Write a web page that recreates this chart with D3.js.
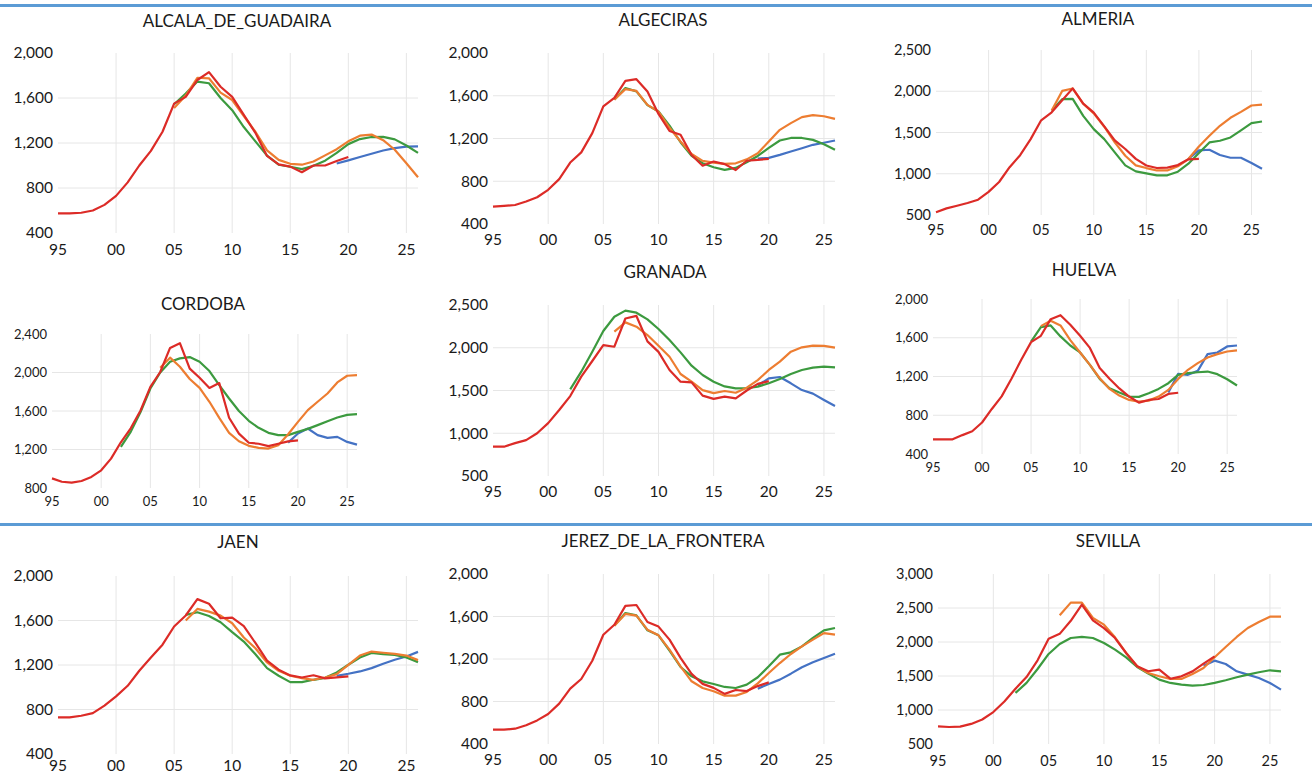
<html>

<head>
    <script src="https://d3js.org/d3.v7.min.js"></script>
    <style>
        body { margin: 0; background: #fff; }
        text { font-family: Lato, "Open Sans", sans-serif; fill: #1a1a1a; }
    </style>
</head>

<body></body>
<script>

    // city names, one chart each
    var cities = ["ALCALA_DE_GUADAIRA", "ALGECIRAS", "ALMERIA",
        "CORDOBA", "GRANADA", "HUELVA",
        "JAEN", "JEREZ_DE_LA_FRONTERA", "SEVILLA"];

    var xTicks = [1995, 2000, 2005, 2010, 2015, 2020, 2025];

    // y tick values per city
    var yTicks = [
        [400, 800, 1200, 1600, 2000],
        [400, 800, 1200, 1600, 2000],
        [500, 1000, 1500, 2000, 2500],
        [800, 1200, 1600, 2000, 2400],
        [500, 1000, 1500, 2000, 2500],
        [400, 800, 1200, 1600, 2000],
        [400, 800, 1200, 1600, 2000],
        [400, 800, 1200, 1600, 2000],
        [500, 1000, 1500, 2000, 2500, 3000]
    ];

    // red series: 1995 - 2020
    var redStart = [1995, 1995, 1995, 1995, 1995, 1995, 1995, 1995, 1995];
    var red = [
        [575, 575, 580, 600, 650, 730, 850, 1000, 1130, 1300, 1550, 1610, 1760, 1830, 1700, 1610, 1450, 1290, 1085, 1010, 990, 940, 1000, 1000, 1040, 1075],
        [562, 570, 578, 610, 650, 720, 820, 975, 1070, 1250, 1500, 1580, 1740, 1755, 1640, 1430, 1270, 1235, 1045, 945, 985, 960, 905, 992, 1000, 1010],
        [533, 580, 612, 645, 685, 780, 900, 1080, 1225, 1420, 1648, 1745, 1890, 2035, 1850, 1740, 1575, 1405, 1300, 1180, 1100, 1070, 1075, 1105, 1175, 1180],
        [900, 865, 855, 873, 915, 984, 1105, 1275, 1420, 1605, 1850, 2005, 2255, 2305, 2040, 1945, 1840, 1890, 1530, 1365, 1270, 1260, 1235, 1260, 1285, 1295],
        [843, 843, 885, 920, 1000, 1118, 1272, 1435, 1662, 1845, 2030, 2012, 2342, 2372, 2075, 1952, 1740, 1603, 1595, 1440, 1402, 1428, 1408, 1500, 1577, 1610],
        [552, 552, 552, 595, 635, 725, 865, 995, 1177, 1373, 1555, 1620, 1792, 1833, 1735, 1620, 1495, 1287, 1177, 1077, 993, 930, 958, 968, 1020, 1032],
        [729, 729, 744, 768, 835, 918, 1013, 1148, 1267, 1383, 1546, 1645, 1792, 1750, 1620, 1625, 1550, 1398, 1240, 1158, 1106, 1088, 1108, 1080, 1088, 1098],
        [535, 535, 544, 576, 622, 682, 780, 921, 1012, 1184, 1428, 1522, 1700, 1708, 1548, 1505, 1382, 1210, 1060, 966, 928, 872, 908, 898, 945, 980],
        [760, 750, 755, 795, 860, 970, 1125, 1312, 1485, 1730, 2048, 2120, 2312, 2548, 2318, 2205, 2058, 1838, 1643, 1570, 1593, 1460, 1495, 1568, 1682, 1788]
    ];

    // orange series, to 2026
    var orangeStart = [2005, 2006, 2006, 2006, 2006, 2006, 2006, 2006, 2006];
    var orange = [
        [1510, 1622, 1780, 1775, 1648, 1582, 1440, 1300, 1135, 1050, 1015, 1007, 1035, 1090, 1145, 1215, 1265, 1275, 1225, 1140, 1020, 895],
        [1562, 1662, 1645, 1515, 1452, 1300, 1172, 1055, 990, 975, 962, 968, 1005, 1062, 1172, 1281, 1344, 1400, 1418, 1408, 1384],
        [1767, 2004, 2033, 1848, 1732, 1570, 1380, 1218, 1102, 1069, 1040, 1040, 1090, 1178, 1331, 1460, 1581, 1678, 1750, 1827, 1839],
        [2049, 2154, 2060, 1932, 1841, 1696, 1529, 1373, 1286, 1238, 1217, 1210, 1244, 1359, 1487, 1609, 1696, 1782, 1897, 1966, 1973],
        [2188, 2297, 2246, 2149, 2024, 1895, 1693, 1603, 1505, 1470, 1494, 1474, 1533, 1622, 1740, 1837, 1954, 2005, 2024, 2022, 2001],
        [1720, 1776, 1727, 1576, 1448, 1320, 1182, 1072, 1003, 958, 941, 951, 993, 1062, 1175, 1269, 1338, 1396, 1431, 1458, 1469],
        [1600, 1704, 1680, 1644, 1575, 1447, 1351, 1223, 1148, 1103, 1082, 1067, 1088, 1118, 1202, 1285, 1321, 1310, 1300, 1285, 1244],
        [1512, 1624, 1608, 1476, 1423, 1288, 1131, 990, 927, 896, 855, 855, 890, 971, 1068, 1162, 1247, 1319, 1382, 1444, 1429],
        [2392, 2579, 2579, 2353, 2255, 2069, 1839, 1643, 1545, 1496, 1456, 1456, 1530, 1618, 1775, 1927, 2074, 2206, 2294, 2373, 2373]
    ];

    // green series, to 2026
    var greenStart = [2005, 2006, 2006, 2002, 2002, 2005, 2006, 2006, 2002];
    var green = [
        [1545, 1640, 1746, 1731, 1600, 1492, 1342, 1214, 1088, 1007, 989, 968, 998, 1043, 1112, 1190, 1235, 1253, 1255, 1232, 1178, 1112],
        [1565, 1672, 1641, 1512, 1453, 1320, 1165, 1037, 969, 931, 906, 925, 978, 1037, 1112, 1181, 1205, 1205, 1187, 1147, 1094],
        [1767, 1904, 1908, 1702, 1541, 1420, 1259, 1102, 1029, 1005, 981, 981, 1025, 1122, 1251, 1380, 1400, 1440, 1525, 1613, 1633],
        [1227, 1383, 1590, 1834, 2000, 2112, 2147, 2160, 2112, 2015, 1869, 1730, 1600, 1498, 1425, 1373, 1349, 1349, 1383, 1414, 1453, 1494, 1532, 1560, 1567],
        [1513, 1720, 1954, 2196, 2363, 2434, 2410, 2332, 2219, 2090, 1946, 1790, 1681, 1603, 1548, 1525, 1527, 1545, 1584, 1634, 1693, 1740, 1767, 1779, 1770],
        [1560, 1710, 1727, 1614, 1520, 1448, 1320, 1175, 1079, 1034, 993, 990, 1027, 1072, 1131, 1217, 1234, 1244, 1251, 1224, 1172, 1107],
        [1650, 1674, 1641, 1584, 1495, 1411, 1297, 1172, 1103, 1046, 1046, 1067, 1085, 1133, 1202, 1267, 1309, 1297, 1291, 1267, 1226],
        [1515, 1633, 1611, 1470, 1423, 1278, 1125, 1037, 990, 965, 937, 927, 959, 1028, 1131, 1241, 1263, 1319, 1398, 1470, 1492],
        [1251, 1398, 1603, 1824, 1971, 2059, 2074, 2059, 1986, 1888, 1775, 1633, 1535, 1447, 1398, 1373, 1359, 1368, 1398, 1437, 1481, 1520, 1555, 1584, 1569]
    ];

    // blue series: 2019 - 2026
    var blueStart = [2019, 2019, 2019, 2019, 2019, 2019, 2019, 2019, 2019];
    var blue = [
        [1018, 1046, 1075, 1105, 1133, 1155, 1168, 1170],
        [1012, 1019, 1047, 1078, 1109, 1141, 1160, 1181],
        [1180, 1283, 1291, 1227, 1194, 1194, 1130, 1061],
        [1272, 1366, 1418, 1349, 1321, 1331, 1279, 1251],
        [1560, 1642, 1658, 1584, 1505, 1463, 1389, 1318],
        [1034, 1227, 1217, 1258, 1431, 1448, 1510, 1520],
        [1103, 1121, 1142, 1172, 1211, 1247, 1276, 1318],
        [921, 965, 1006, 1062, 1122, 1169, 1209, 1250],
        [1650, 1726, 1677, 1569, 1520, 1471, 1398, 1300]
    ];

    // where each small chart sits on the page
    // x0: year 1995, x1: year 2026, top/bottom: first/last y tick
    var frames = [
        { x0: 58, x1: 418, top: 53, bottom: 233, titleY: 27, labelY: 255, font: 15.5 },
        { x0: 493, x1: 835, top: 53, bottom: 224, titleY: 26, labelY: 245, font: 15.5 },
        { x0: 936, x1: 1262, top: 50, bottom: 215, titleY: 25, labelY: 235, font: 14.5 },
        { x0: 52, x1: 357, top: 334, bottom: 488, titleY: 310, labelY: 506, font: 13 },
        { x0: 493, x1: 835, top: 305, bottom: 476, titleY: 278, labelY: 497, font: 15.5 },
        { x0: 933, x1: 1237, top: 299, bottom: 454, titleY: 276, labelY: 472, font: 13 },
        { x0: 58, x1: 418, top: 576, bottom: 754, titleY: 548, labelY: 771, font: 15.5 },
        { x0: 493, x1: 835, top: 574, bottom: 744, titleY: 547, labelY: 765, font: 15.5 },
        { x0: 938, x1: 1281, top: 574, bottom: 744, titleY: 547, labelY: 766, font: 14.5 }
    ];
    var titleX = [237, 663, 1098, 203, 665, 1084, 238, 663, 1108];

    var colors = { red: "#dc2b27", orange: "#ed7d31", green: "#3c9a3f", blue: "#4472c4" };

    var svg = d3.select("body")
        .append("svg")
        .attr("width", 1312)
        .attr("height", 773);

    // blue separator bars
    svg.append("rect").attr("x", 0).attr("y", 4).attr("width", 1312).attr("height", 3).attr("fill", "#5b9bd5");
    svg.append("rect").attr("x", 0).attr("y", 523).attr("width", 1312).attr("height", 3).attr("fill", "#5b9bd5");

    cities.forEach(function (city, i) {
        var f = frames[i];
        var ticks = yTicks[i];

        var x = d3.scaleLinear()
            .domain([1995, 2026])
            .range([f.x0, f.x1]);

        var y = d3.scaleLinear()
            .domain([ticks[0], ticks[ticks.length - 1]])
            .range([f.bottom, f.top]);

        var g = svg.append("g");

        // gridlines
        g.selectAll(".hgrid")
            .data(ticks.slice(1, ticks.length - 1))
            .enter()
            .append("line")
            .attr("x1", f.x0)
            .attr("x2", f.x1)
            .attr("y1", d => y(d))
            .attr("y2", d => y(d))
            .attr("stroke", "#e6e6e6")
            .attr("stroke-width", 1);

        g.selectAll(".vgrid")
            .data(xTicks.slice(1))
            .enter()
            .append("line")
            .attr("x1", d => x(d))
            .attr("x2", d => x(d))
            .attr("y1", f.top)
            .attr("y2", f.bottom)
            .attr("stroke", "#e6e6e6")
            .attr("stroke-width", 1);

        // y axis labels
        g.selectAll(".ylab")
            .data(ticks)
            .enter()
            .append("text")
            .attr("x", f.x0 - 5)
            .attr("y", d => y(d))
            .attr("dy", "0.35em")
            .attr("text-anchor", "end")
            .style("font-size", f.font + "px")
            .text(d => d3.format(",")(d));

        // x axis labels
        g.selectAll(".xlab")
            .data(xTicks)
            .enter()
            .append("text")
            .attr("x", d => x(d))
            .attr("y", f.labelY)
            .attr("text-anchor", "middle")
            .style("font-size", f.font + "px")
            .text(d => String(d).slice(2));

        // title
        g.append("text")
            .attr("x", titleX[i])
            .attr("y", f.titleY)
            .attr("text-anchor", "middle")
            .style("font-size", "17px")
            .text(city);

        // lines
        var series = [
            { vals: blue[i], start: blueStart[i], color: colors.blue },
            { vals: green[i], start: greenStart[i], color: colors.green },
            { vals: orange[i], start: orangeStart[i], color: colors.orange },
            { vals: red[i], start: redStart[i], color: colors.red }
        ];

        var line = d3.line()
            .x(d => x(d.year))
            .y(d => y(d.value));

        series.forEach(function (s) {
            var pts = s.vals.map(function (v, k) {
                return { year: s.start + k, value: v };
            });
            g.append("path")
                .datum(pts)
                .attr("d", line)
                .attr("fill", "none")
                .attr("stroke", s.color)
                .attr("stroke-width", 2.2)
                .attr("stroke-linejoin", "round");
        });
    });

</script>

</html>
